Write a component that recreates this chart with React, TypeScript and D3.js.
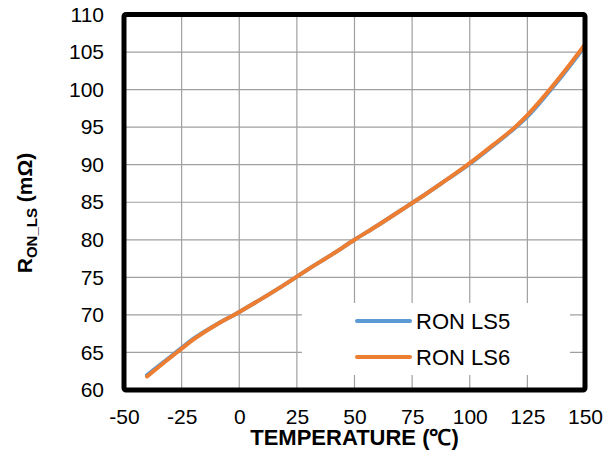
import React, { useEffect, useRef } from "react";
import * as d3 from "d3";

// temperature points (°C)
const temps = [-40, -30, -25, -20, -10, 0, 10, 20, 25, 30, 40, 50, 60, 70, 75, 80, 90, 100, 110, 120, 125, 130, 140, 150];
// R_ON low side values (mΩ)
const ronLs5 = [62.0, 64.4, 65.6, 66.8, 68.7, 70.4, 72.2, 74.1, 75.1, 76.1, 78.0, 80.0, 81.9, 83.9, 84.9, 85.9, 88.0, 90.1, 92.5, 95.0, 96.4, 98.1, 101.8, 105.8];
const ronLs6 = [61.8, 64.3, 65.5, 66.7, 68.7, 70.4, 72.2, 74.1, 75.1, 76.1, 78.0, 80.0, 81.9, 83.9, 84.9, 85.9, 88.0, 90.2, 92.6, 95.1, 96.6, 98.3, 102.0, 106.0];
const seriesNames = ["RON LS5", "RON LS6"];
const seriesColors = ["#5B9BD5", "#ED7D31"];
const xTicks = [-50, -25, 0, 25, 50, 75, 100, 125, 150];
const yTicks = [60, 65, 70, 75, 80, 85, 90, 95, 100, 105, 110];

const App: React.FC = () => {
  const svgRef = useRef<SVGSVGElement>(null);

  useEffect(() => {
    if (!svgRef.current) return;
    const root = d3.select(svgRef.current);
    root.selectAll("*").remove();

    const left = 124, right = 585, top = 14.5, bottom = 390;
    const font = "'Liberation Sans', Arial, sans-serif";

    const x = d3.scaleLinear().domain([-50, 150]).range([left, right]);
    const y = d3.scaleLinear().domain([60, 110]).range([bottom, top]);

    // gridlines
    const grid = root.append("g").attr("stroke", "#a0a0a0").attr("stroke-width", 1.2);
    grid.selectAll("line.v").data(xTicks.slice(1, -1)).enter().append("line")
      .attr("x1", (d) => x(d)).attr("x2", (d) => x(d)).attr("y1", top).attr("y2", bottom);
    grid.selectAll("line.h").data(yTicks.slice(1, -1)).enter().append("line")
      .attr("x1", left).attr("x2", right).attr("y1", (d) => y(d)).attr("y2", (d) => y(d));

    // lines
    const data = [ronLs5, ronLs6];
    const line = d3.line<number>()
      .x((_, i) => x(temps[i]))
      .y((d) => y(d))
      .curve(d3.curveMonotoneX);
    data.forEach((vals, k) => {
      root.append("path")
        .attr("d", line(vals))
        .attr("fill", "none")
        .attr("stroke", seriesColors[k])
        .attr("stroke-width", 4)
        .attr("stroke-linecap", "round");
    });

    // legend
    const lg = root.append("g");
    lg.append("rect").attr("x", 302).attr("y", 303).attr("width", 268).attr("height", 72).attr("fill", "white");
    seriesNames.forEach((name, k) => {
      const ly = 321 + k * 36;
      lg.append("line").attr("x1", 357).attr("x2", 410).attr("y1", ly).attr("y2", ly)
        .attr("stroke", seriesColors[k]).attr("stroke-width", 4).attr("stroke-linecap", "round");
      lg.append("text").attr("x", 416).attr("y", ly + 8)
        .style("font-family", font).style("font-size", "22px").attr("fill", "#000")
        .text(name);
    });

    // frame
    root.append("rect")
      .attr("x", left).attr("y", top)
      .attr("width", right - left).attr("height", bottom - top)
      .attr("fill", "none").attr("stroke", "#000").attr("stroke-width", 5).attr("rx", 2);

    // axes labels
    const xAxis = root.append("g")
      .attr("transform", `translate(0,${bottom})`)
      .call(d3.axisBottom(x).tickValues(xTicks).tickSize(0).tickPadding(19).tickFormat((d) => String(d)));
    xAxis.select(".domain").remove();
    xAxis.selectAll("text").style("font-family", font).style("font-size", "21px").attr("fill", "#000");

    const yAxis = root.append("g")
      .attr("transform", `translate(${left},0)`)
      .call(d3.axisLeft(y).tickValues(yTicks).tickSize(0).tickPadding(20).tickFormat((d) => String(d)));
    yAxis.select(".domain").remove();
    yAxis.selectAll("text").style("font-family", font).style("font-size", "21px").attr("fill", "#000");

    // axis titles
    root.append("text")
      .attr("x", (left + right) / 2).attr("y", 445)
      .attr("text-anchor", "middle")
      .style("font-family", font).style("font-size", "22px").style("font-weight", "bold")
      .text("TEMPERATURE (℃)");

    const yt = root.append("text")
      .attr("transform", "translate(32,213) rotate(-90)")
      .attr("text-anchor", "middle")
      .style("font-family", font).style("font-weight", "bold").style("font-size", "21px");
    yt.append("tspan").text("R");
    yt.append("tspan").attr("dy", 5).style("font-size", "15px").text("ON_LS");
    yt.append("tspan").attr("dy", -5).text(" (mΩ)");
  }, []);

  return (
    <div>
      <svg ref={svgRef} width={605} height={455} style={{ position: "absolute", left: 0, top: 0, background: "white" }}></svg>
    </div>
  );
};

export default App;
